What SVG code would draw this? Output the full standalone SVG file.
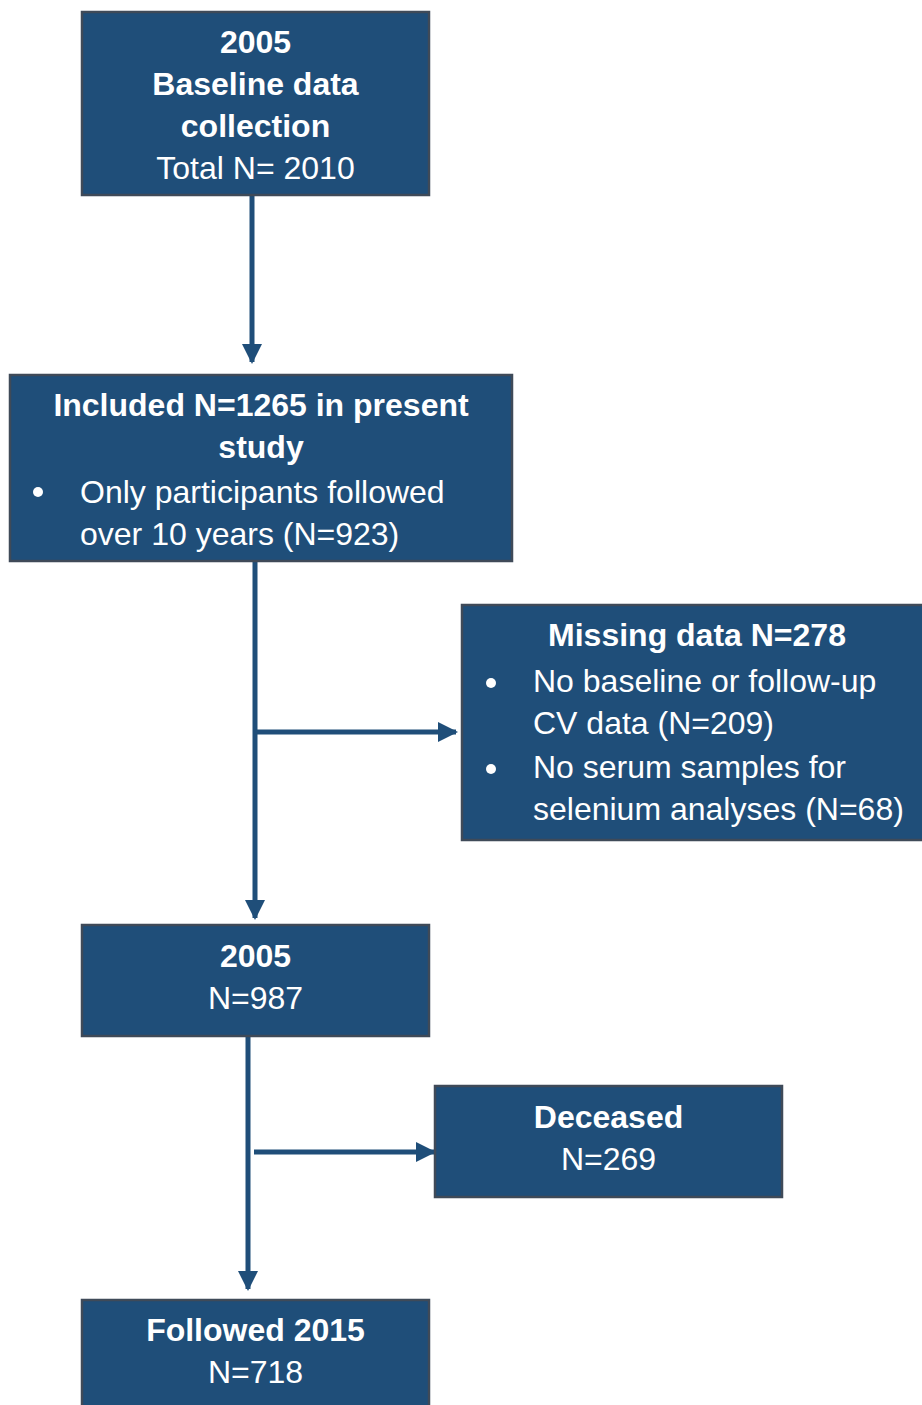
<svg xmlns="http://www.w3.org/2000/svg" width="922" height="1405" viewBox="0 0 922 1405">
  <style>
    .box { fill: #1F4E79; stroke: #3F4A58; stroke-width: 2.5; }
    .t { font-family: "Liberation Sans", Arial, sans-serif; font-size: 32px; fill: #FFFFFF; }
    .b { font-weight: bold; }
    .c { text-anchor: middle; }
    .link { stroke: #1F4E79; stroke-width: 5; fill: none; }
  </style>
  <defs>
    <marker id="arrow" viewBox="0 0 10 10" refX="9" refY="5" markerWidth="4" markerHeight="4" orient="auto" markerUnits="strokeWidth">
      <path d="M0,0 L10,5 L0,10 z" fill="#1F4E79"/>
    </marker>
  </defs>

  <g id="connectors">
    <line class="link" x1="252" y1="195" x2="252" y2="362" marker-end="url(#arrow)"/>
    <line class="link" x1="255" y1="561" x2="255" y2="918" marker-end="url(#arrow)"/>
    <line class="link" x1="255" y1="732" x2="456" y2="732" marker-end="url(#arrow)"/>
    <line class="link" x1="248" y1="1036" x2="248" y2="1289" marker-end="url(#arrow)"/>
    <line class="link" x1="254" y1="1152" x2="434" y2="1152" marker-end="url(#arrow)"/>
  </g>

  <g id="baseline">
    <rect class="box" x="82" y="12" width="347" height="183"/>
    <text class="t b c" x="255.5" y="53">2005</text>
    <text class="t b c" x="255.5" y="95">Baseline data</text>
    <text class="t b c" x="255.5" y="137">collection</text>
    <text class="t c" x="255.5" y="179">Total N= 2010</text>
  </g>

  <g id="included">
    <rect class="box" x="10" y="375" width="502" height="186"/>
    <text class="t b c" x="261" y="416">Included N=1265 in present</text>
    <text class="t b c" x="261" y="458">study</text>
    <circle cx="38" cy="492" r="5" fill="#FFFFFF"/>
    <text class="t" x="80" y="503">Only participants followed</text>
    <text class="t" x="80" y="545">over 10 years (N=923)</text>
  </g>

  <g id="missing">
    <rect class="box" x="462" y="605" width="470" height="235"/>
    <text class="t b c" x="697" y="646">Missing data N=278</text>
    <circle cx="491" cy="683" r="5" fill="#FFFFFF"/>
    <text class="t" x="533" y="692">No baseline or follow-up</text>
    <text class="t" x="533" y="734">CV data (N=209)</text>
    <circle cx="491" cy="769" r="5" fill="#FFFFFF"/>
    <text class="t" x="533" y="778">No serum samples for</text>
    <text class="t" x="533" y="820">selenium analyses (N=68)</text>
  </g>

  <g id="y2005">
    <rect class="box" x="82" y="925" width="347" height="111"/>
    <text class="t b c" x="255.5" y="967">2005</text>
    <text class="t c" x="255.5" y="1009">N=987</text>
  </g>

  <g id="deceased">
    <rect class="box" x="435" y="1086" width="347" height="111"/>
    <text class="t b c" x="608.5" y="1128">Deceased</text>
    <text class="t c" x="608.5" y="1170">N=269</text>
  </g>

  <g id="followed">
    <rect class="box" x="82" y="1300" width="347" height="115"/>
    <text class="t b c" x="255.5" y="1341">Followed 2015</text>
    <text class="t c" x="255.5" y="1383">N=718</text>
  </g>
</svg>
